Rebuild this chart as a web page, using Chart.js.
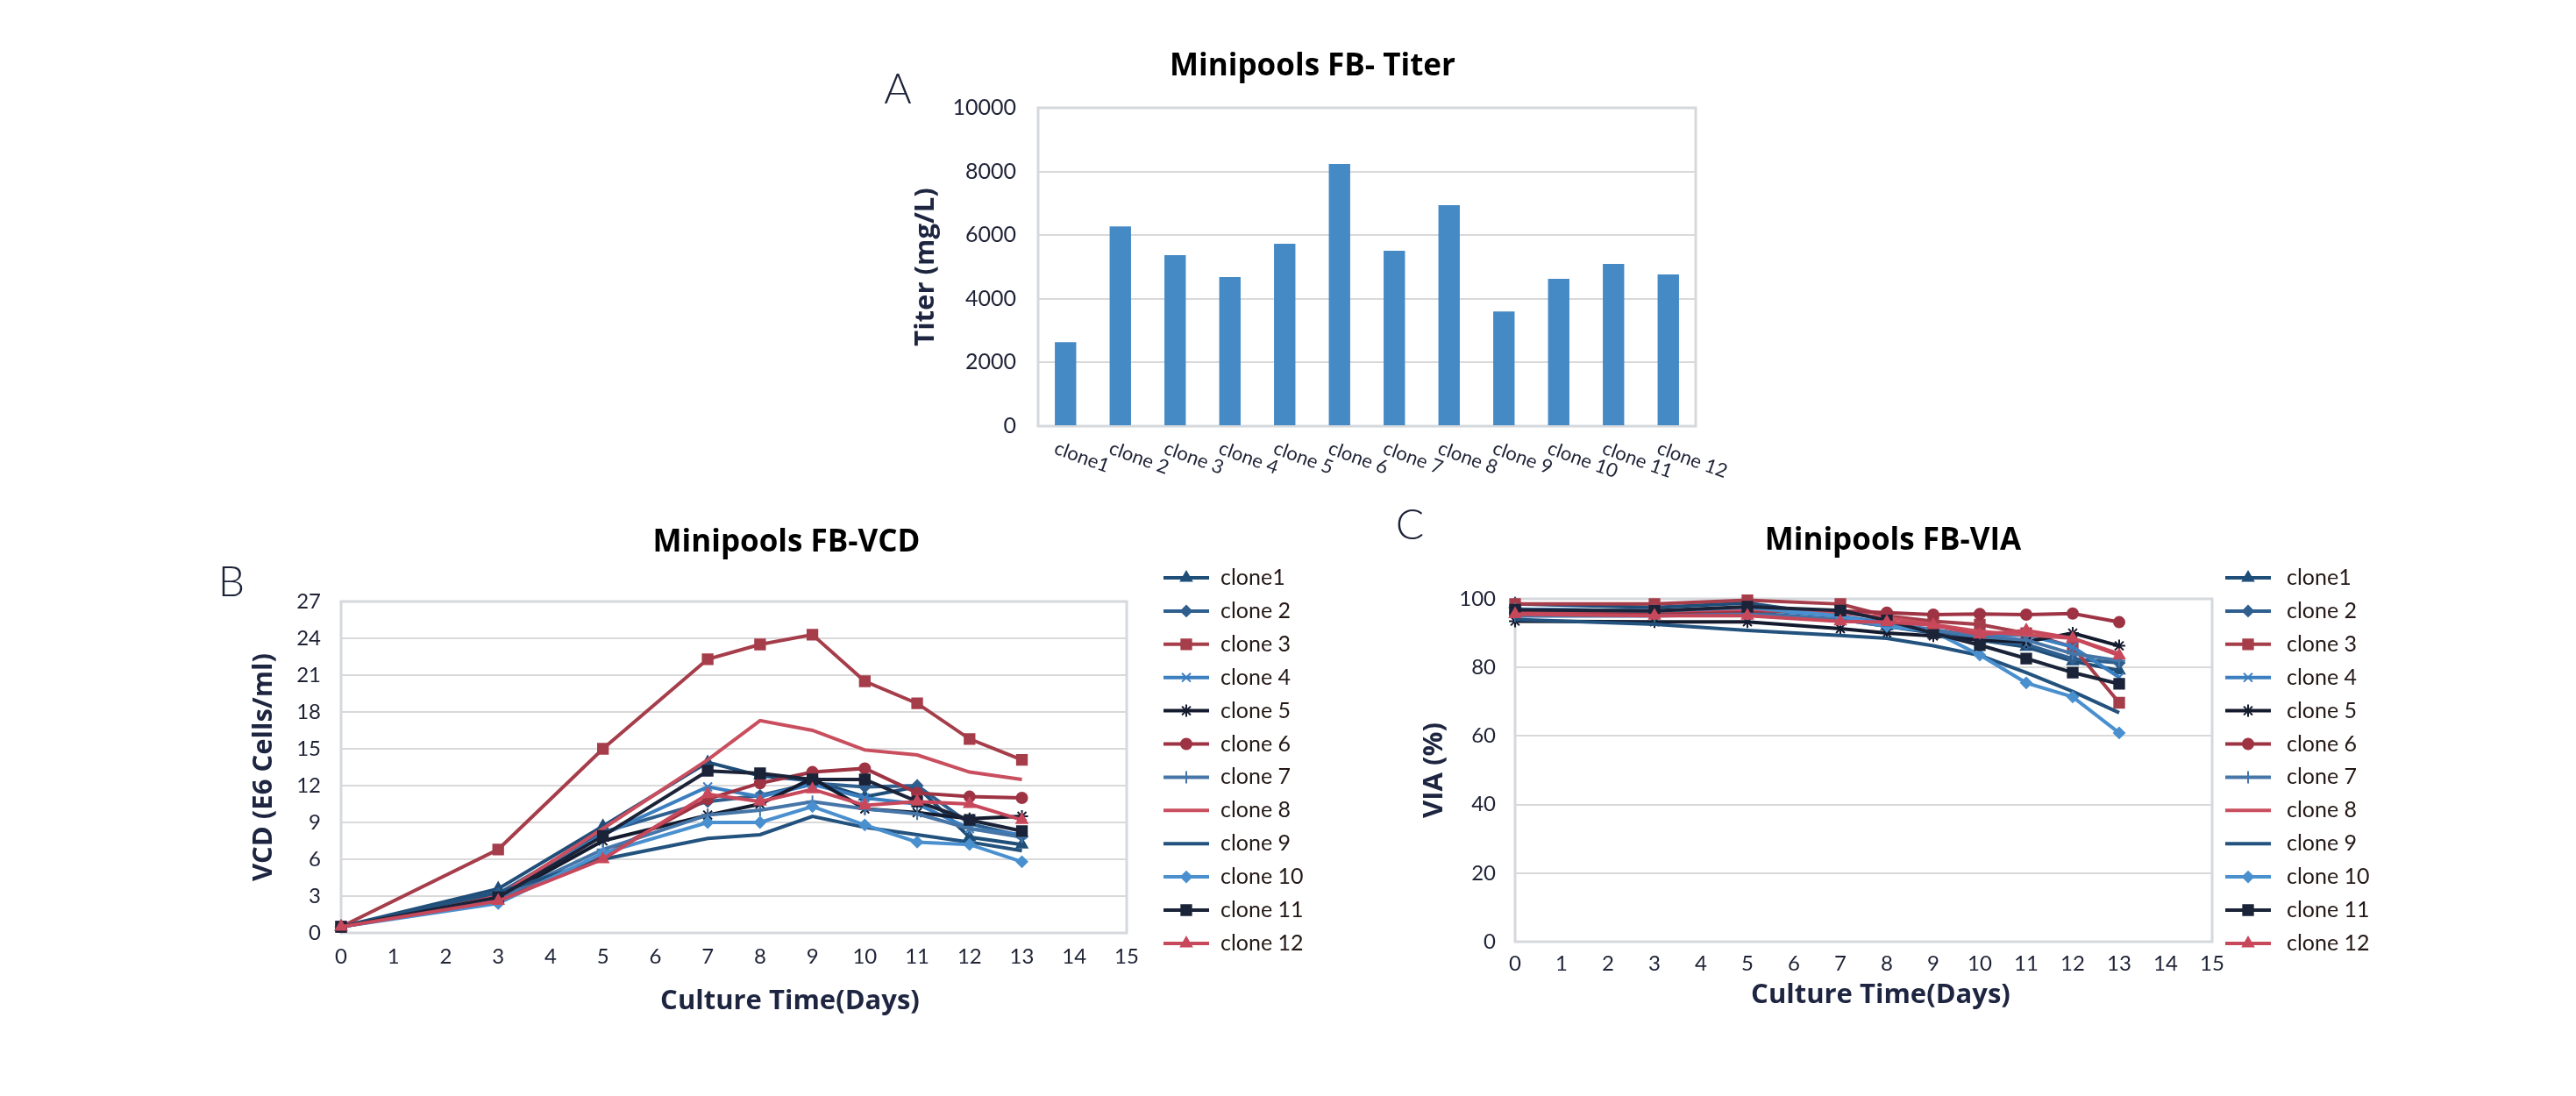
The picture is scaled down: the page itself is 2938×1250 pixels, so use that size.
<!DOCTYPE html>
<html>
<head>
<meta charset="utf-8">
<script src="https://cdn.jsdelivr.net/npm/chart.js@4.4.1/dist/chart.umd.min.js"></script>
<style>
  body { margin: 0; background: #fff; }
  #page { position: relative; width: 2938px; height: 1250px; overflow: hidden; background: #fff; }
  canvas { position: absolute; }
</style>
</head>
<body>
<div id="page">
  <canvas id="chartA" width="980" height="520" style="left:1000px;top:40px"></canvas>
  <canvas id="chartB" width="1340" height="620" style="left:200px;top:560px"></canvas>
  <canvas id="chartC" width="1340" height="620" style="left:1560px;top:560px"></canvas>
</div>
<script>
// ---- data ----
const clones = ['clone1', 'clone 2', 'clone 3', 'clone 4', 'clone 5', 'clone 6',
                'clone 7', 'clone 8', 'clone 9', 'clone 10', 'clone 11', 'clone 12'];
const titers = [2640, 6275, 5370, 4680, 5730, 8240, 5510, 6945, 3605, 4630, 5095, 4765];

const days = [0, 3, 5, 7, 8, 9, 10, 11, 12, 13];

const vcd1  = [0.5, 3.6, 8.7, 13.9, 12.8, 12.4, 11.1, 11.9, 7.8, 7.2];
const vcd2  = [0.5, 3.2, 8.2, 10.7, 11.2, 12.2, 11.9, 12.0, 8.9, 7.9];
const vcd3  = [0.5, 6.8, 15.0, 22.3, 23.5, 24.3, 20.5, 18.7, 15.8, 14.1];
const vcd4  = [0.5, 3.0, 8.0, 11.9, 11.1, 12.1, 11.0, 10.5, 8.5, 8.0];
const vcd5  = [0.5, 2.8, 7.5, 9.6, 10.5, 12.6, 10.1, 9.8, 9.3, 9.5];
const vcd6  = [0.5, 2.7, 6.3, 10.9, 12.2, 13.1, 13.4, 11.4, 11.1, 11.0];
const vcd7  = [0.5, 2.8, 6.8, 9.6, 10.0, 10.7, 10.1, 9.7, 8.5, 7.8];
const vcd8  = [0.5, 3.0, 8.5, 14.1, 17.3, 16.5, 14.9, 14.5, 13.1, 12.5];
const vcd9  = [0.5, 3.3, 6.0, 7.7, 8.0, 9.5, 8.6, 8.0, 7.4, 6.7];
const vcd10 = [0.5, 2.4, 6.5, 9.0, 9.0, 10.3, 8.8, 7.4, 7.2, 5.8];
const vcd11 = [0.5, 2.9, 7.9, 13.2, 13.0, 12.5, 12.5, 10.7, 9.2, 8.3];
const vcd12 = [0.5, 2.6, 6.0, 11.3, 10.7, 11.7, 10.4, 10.7, 10.5, 9.2];

const via1  = [98.5, 97.5, 98.8, 95.0, 92.0, 90.0, 88.0, 86.0, 81.8, 79.1];
const via2  = [96.0, 95.5, 96.0, 94.0, 92.0, 90.5, 88.0, 86.7, 82.5, 81.3];
const via3  = [98.5, 98.5, 99.6, 98.5, 95.0, 93.5, 92.5, 90.0, 86.0, 69.7];
const via4  = [97.0, 96.5, 97.0, 95.0, 93.0, 91.0, 89.0, 89.5, 86.0, 77.1];
const via5  = [93.5, 93.3, 93.3, 91.3, 90.0, 89.2, 88.0, 87.5, 90.0, 86.3];
const via6  = [96.0, 96.0, 96.5, 96.5, 96.0, 95.4, 95.6, 95.4, 95.7, 93.2];
const via7  = [95.0, 95.0, 95.5, 94.0, 92.0, 91.0, 89.0, 88.0, 84.0, 82.0];
const via8  = [96.5, 96.5, 97.0, 96.0, 94.5, 92.5, 90.5, 89.5, 88.5, 84.0];
const via9  = [94.0, 92.6, 90.8, 89.3, 88.5, 86.3, 83.5, 78.5, 73.0, 66.8];
const via10 = [97.0, 96.5, 97.5, 95.0, 92.0, 90.5, 83.6, 75.5, 71.4, 60.9];
const via11 = [96.8, 96.5, 97.7, 96.6, 93.7, 90.0, 86.5, 82.6, 78.5, 75.2];
const via12 = [95.5, 95.1, 95.1, 93.4, 93.2, 92.3, 89.6, 90.8, 88.5, 83.5];

const vcdTicks = [0, 3, 6, 9, 12, 15, 18, 21, 24, 27];
const viaTicks = [0, 20, 40, 60, 80, 100];
const titerTicks = [0, 2000, 4000, 6000, 8000, 10000];

// ---- styles ----
const colors = ['#1F4E79', '#2F5F8E', '#A63D4A', '#3C7FC0', '#141B2E', '#9E3343',
                '#4676A8', '#C94E5E', '#22527D', '#4A90CF', '#1A2338', '#C8485B'];
const markers = ['triangle', 'rectRot', 'rect', 'crossRot', 'star', 'circle',
                 'cross', false, false, 'rectRot', 'rect', 'triangle'];
const markerSize = [7, 6, 8, 7, 7, 6, 7, 0, 0, 6, 8, 7];

const tickColor = '#1E2235';
const titleFont = 'bold 35px "Open Sans", "Liberation Sans", sans-serif';
const axisFont = 'bold 31px "Open Sans", "Liberation Sans", sans-serif';
const letterFont = '300 48px Lato, "Open Sans", sans-serif';

// ---- plugins ----
function captions(items) {
  return {
    id: 'captions',
    afterDraw(chart) {
      const ctx = chart.ctx;
      ctx.save();
      ctx.textAlign = 'center';
      ctx.textBaseline = 'middle';
      items.forEach(it => {
        ctx.font = it.font;
        ctx.fillStyle = it.color;
        ctx.fillText(it.text, it.x, it.y);
      });
      ctx.restore();
    }
  };
}

const framePlugin = {
  id: 'frame',
  beforeDatasetsDraw(chart) {
    const { ctx, chartArea: a } = chart;
    ctx.save();
    ctx.strokeStyle = '#D5D8DC';
    ctx.lineWidth = 3;
    ctx.strokeRect(a.left, a.top, a.right - a.left, a.bottom - a.top);
    ctx.restore();
  }
};

function sideLegend(x0, x1, textX, y0, step) {
  return {
    id: 'sideLegend',
    afterDraw(chart) {
      const ctx = chart.ctx;
      chart.data.datasets.forEach((ds, i) => {
        const y = y0 + i * step;
        ctx.save();
        ctx.strokeStyle = ds.borderColor;
        ctx.lineWidth = 4;
        ctx.beginPath();
        ctx.moveTo(x0, y);
        ctx.lineTo(x1, y);
        ctx.stroke();
        if (ds.pointStyle && Chart.helpers && Chart.helpers.drawPoint) {
          ctx.fillStyle = ds.borderColor;
          ctx.lineWidth = 2;
          Chart.helpers.drawPoint(ctx, { pointStyle: ds.pointStyle, radius: ds.pointRadius, borderWidth: 2, rotation: 0 }, (x0 + x1) / 2, y);
        }
        ctx.fillStyle = '#231815';
        ctx.font = '25px Lato, "Open Sans", sans-serif';
        ctx.textAlign = 'left';
        ctx.textBaseline = 'middle';
        ctx.fillText(ds.label, textX, y);
        ctx.restore();
      });
    }
  };
}

const slantLabels = {
  id: 'slantLabels',
  afterDraw(chart) {
    const ctx = chart.ctx;
    const xs = chart.scales.x;
    ctx.save();
    ctx.font = '22px Lato, "Open Sans", sans-serif';
    ctx.fillStyle = tickColor;
    ctx.textAlign = 'left';
    ctx.textBaseline = 'top';
    chart.data.labels.forEach((lab, i) => {
      ctx.save();
      ctx.translate(xs.getPixelForTick(i) - 8, xs.top + 14);
      ctx.rotate(20 * Math.PI / 180);
      ctx.fillText(lab, 0, 0);
      ctx.restore();
    });
    ctx.restore();
  }
};

// ---- chart A: titer bars ----
new Chart(document.getElementById('chartA'), {
  type: 'bar',
  data: {
    labels: clones,
    datasets: [{
      label: 'Titer',
      data: titers,
      backgroundColor: '#4589C5',
      barPercentage: 0.39,
      categoryPercentage: 1.0
    }]
  },
  options: {
    responsive: false,
    animation: false,
    devicePixelRatio: 1,
    layout: { padding: { top: 83, right: 46, left: 0, bottom: 0 } },
    plugins: { legend: { display: false }, tooltip: { enabled: false } },
    scales: {
      x: {
        grid: { display: false },
        border: { display: false },
        ticks: { display: false },
        afterFit: s => { s.height = 74; }
      },
      y: {
        min: 0, max: 10000,
        afterBuildTicks: s => { s.ticks = titerTicks.map(v => ({ value: v })); },
        grid: { color: '#D9D9D9', lineWidth: 2, drawTicks: false },
        border: { display: false },
        ticks: { color: tickColor, padding: 25, font: { family: 'Lato', size: 25 },
                 callback: v => String(v) },
        title: { display: true, text: 'Titer (mg/L)', color: '#1E2540',
                 font: { family: 'Open Sans', size: 31, weight: 'bold' }, padding: { top: 38, bottom: 0 } },
        afterFit: s => { s.width = 184; }
      }
    }
  },
  plugins: [framePlugin, slantLabels, captions([
    { text: 'Minipools FB- Titer', x: 497, y: 36, font: titleFont, color: '#000' },
    { text: 'A', x: 24, y: 63, font: letterFont, color: '#1C2238' }
  ])]
});

// ---- line charts ----
function lineSets(series) {
  return series.map((vals, i) => ({
    label: clones[i],
    data: days.map((d, k) => ({ x: d, y: vals[k] })),
    borderColor: colors[i],
    backgroundColor: colors[i],
    pointBackgroundColor: colors[i],
    pointBorderColor: colors[i],
    borderWidth: 4,
    pointStyle: markers[i],
    pointRadius: markerSize[i],
    pointBorderWidth: 2,
    tension: 0,
    clip: false,
    order: -i
  }));
}

function lineChart(id, series, yMax, yTicks, yTitle, g) {
  return new Chart(document.getElementById(id), {
    type: 'line',
    data: { datasets: lineSets(series) },
    options: {
      responsive: false,
      animation: false,
      devicePixelRatio: 1,
      layout: { padding: { top: g.top, right: g.right, left: 0, bottom: 0 } },
      plugins: { legend: { display: false }, tooltip: { enabled: false } },
      scales: {
        x: {
          type: 'linear', min: 0, max: 15,
          ticks: { stepSize: 1, color: tickColor, padding: g.xPad, font: { family: 'Lato', size: 24 } },
          grid: { display: false, drawTicks: false },
          border: { display: false },
          afterFit: s => { s.height = g.xH; }
        },
        y: {
          min: 0, max: yMax,
          afterBuildTicks: s => { s.ticks = yTicks.map(v => ({ value: v })); },
          grid: { color: '#D9D9D9', lineWidth: 2, drawTicks: false },
          border: { display: false },
          ticks: { color: tickColor, padding: g.yPad, font: { family: 'Lato', size: 24 } },
          title: { display: true, text: yTitle, color: '#1E2540',
                   font: { family: 'Open Sans', size: 31, weight: 'bold' }, padding: { top: g.yTitlePad, bottom: 0 } },
          afterFit: s => { s.width = g.yW; }
        }
      }
    },
    plugins: [framePlugin, sideLegend(g.legX0, g.legX1, g.legText, 99, 37.9), captions(g.texts)]
  });
}

lineChart('chartB',
  [vcd1, vcd2, vcd3, vcd4, vcd5, vcd6, vcd7, vcd8, vcd9, vcd10, vcd11, vcd12],
  27, vcdTicks, 'VCD (E6 Cells/ml)',
  { top: 126, right: 255, xH: 116, xPad: 13, yW: 189, yPad: 23, yTitlePad: 83,
    legX0: 1127, legX1: 1179, legText: 1192,
    texts: [
      { text: 'Minipools FB-VCD', x: 697, y: 59, font: titleFont, color: '#000' },
      { text: 'Culture Time(Days)', x: 701, y: 582, font: axisFont, color: '#1E2540' },
      { text: 'B', x: 64, y: 105, font: letterFont, color: '#1C2238' }
    ] });

lineChart('chartC',
  [via1, via2, via3, via4, via5, via6, via7, via8, via9, via10, via11, via12],
  100, viaTicks, 'VIA (%)',
  { top: 123, right: 377, xH: 106, xPad: 11, yW: 168, yPad: 22, yTitlePad: 58,
    legX0: 978, legX1: 1030, legText: 1048,
    texts: [
      { text: 'Minipools FB-VIA', x: 599, y: 57, font: titleFont, color: '#000' },
      { text: 'Culture Time(Days)', x: 585, y: 575, font: axisFont, color: '#1E2540' },
      { text: 'C', x: 48, y: 40, font: letterFont, color: '#1C2238' }
    ] });
</script>
</body>
</html>
